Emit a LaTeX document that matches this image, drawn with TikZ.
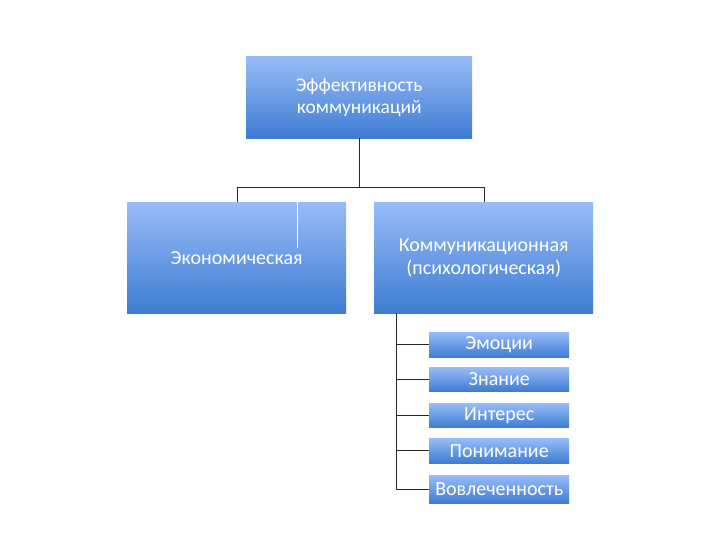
\documentclass[tikz,border=0pt]{standalone}
\usepackage{fontspec}
\setmainfont{Carlito}
\definecolor{btop}{RGB}{152,188,248}
\definecolor{bbot}{RGB}{62,124,210}
\definecolor{lnc}{RGB}{40,40,40}
\tikzset{
  box/.style={draw=none, top color=btop, bottom color=bbot, anchor=north west, inner sep=0pt,
    text=white, align=center, font=\fontsize{20}{23}\selectfont},
  sbox/.style={box, font=\fontsize{20}{22}\selectfont},
  conn/.style={draw=lnc, line width=0.9pt}
}
\begin{document}
\begin{tikzpicture}[x=1pt,y=-1pt]
\useasboundingbox (0,0) rectangle (720,540);
\node[box, font=\fontsize{19.5}{22}\selectfont, minimum width=226pt, minimum height=82pt] (top) at (246,56) {Эффективность\\коммуникаций};
\node[box, minimum width=219pt, minimum height=111pt] (eco) at (127,202) {\raisebox{-1pt}{Экономическая}};
\node[box, minimum width=219pt, minimum height=111pt] (com) at (374,202) {Коммуникационная\\(психологическая)};
\node[sbox, minimum width=140pt, minimum height=25pt] (s1) at (429,332) {Эмоции};
\node[sbox, minimum width=140pt, minimum height=24pt] (s2) at (429,367) {Знание};
\node[sbox, minimum width=140pt, minimum height=24pt] (s3) at (429,403) {Интерес};
\node[sbox, minimum width=140pt, minimum height=25pt] (s4) at (429,438) {Понимание};
\node[sbox, minimum width=140pt, minimum height=28pt] (s5) at (429,475) {Вовлеченность};
\coordinate (hy) at (0,187);
\coordinate (ex) at (237,0);
\coordinate (cx) at (484,0);
\draw[conn] (top.south) -- (top.south |- hy) (ex |- hy) -- (cx |- hy);
\draw[conn] (ex |- hy) -- (ex |- eco.north);
\draw[conn] (cx |- hy) -- (cx |- com.north);
\coordinate (vx) at (396,0);
\draw[conn] (vx |- com.south) -- (vx |- s5.west) -- (s5.west);
\foreach \n in {s1,s2,s3,s4} \draw[conn] (vx |- \n.west) -- (\n.west);
\coordinate (wl) at (297,248);
\draw[white, line width=0.9pt] (wl |- eco.north) -- (wl);
\end{tikzpicture}
\end{document}
